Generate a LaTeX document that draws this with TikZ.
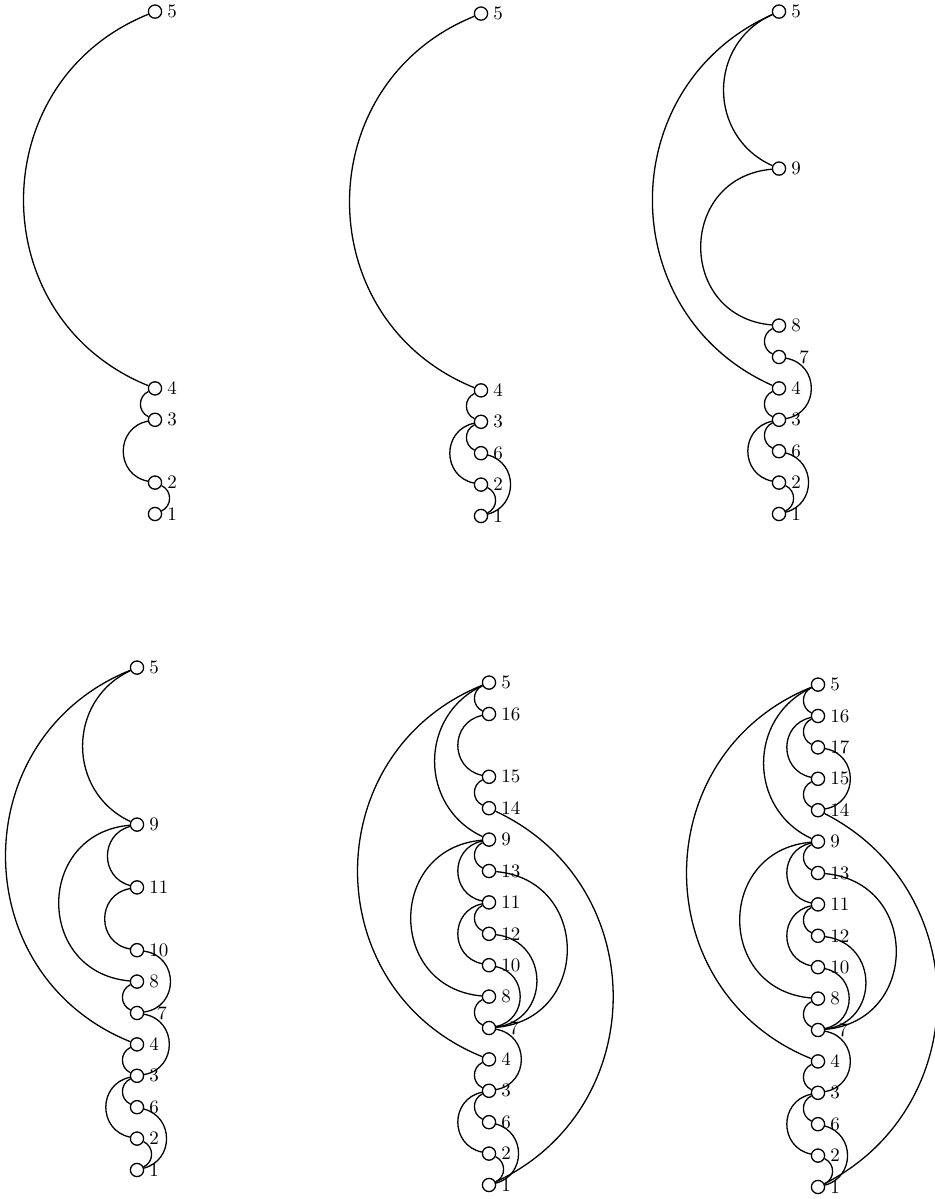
\documentclass[tikz,border=0pt]{standalone}
\newcommand{\vcol}[4]{%
  \foreach \n/\p in {#4}{%
    \ifnum\n=7 \def\dx{4pt}\else\def\dx{0pt}\fi
    \node[vtx,label={[lbl,xshift=\dx]right:\n}] (#1\n) at (#2,#3+\p*31.4) {};}}
\newcommand{\vlinks}[2]{\foreach \a/\b/\t in {#2}{\draw (#1\a) to[arcb=\t] (#1\b);}}
\begin{document}
\begin{tikzpicture}[x=0.5pt,y=0.5pt,line width=0.65pt,
  vtx/.style={circle,draw,minimum size=6.6pt,inner sep=0pt},
  lbl/.style={font=\fontsize{9.5}{10}\selectfont,inner sep=2.2pt},
  arcb/.code={\pgfmathsetmacro\arcout{-1*(#1)}\pgfmathsetmacro\arcin{180+(#1)}%
    \pgfmathsetmacro\arcloose{1.703/(1+cos(#1))}%
    \edef\arcopts{out=\arcout,in=\arcin,relative,looseness=\arcloose}%
    \expandafter\tikzset\expandafter{\arcopts}}]
\useasboundingbox (0,0) rectangle (934,1199);
% top row
\vcol{a}{155}{685}{1/0,2/1,3/3,4/4,5/16}
\vlinks{a}{5/4/68,4/3/65,3/2/79,2/1/-65}
\vcol{b}{481}{683}{1/0,2/1,6/2,3/3,4/4,5/16}
\vlinks{b}{5/4/68,4/3/65,3/6/65,3/2/78,6/1/-75,2/1/-65}
\vcol{c}{779}{685}{1/0,2/1,6/2,3/3,4/4,7/5,8/6,9/11,5/16}
\vlinks{c}{5/9/66,5/4/66,9/8/85,8/7/65,7/3/-80,4/3/65,3/6/65,3/2/78,6/1/-75,2/1/-65}
% bottom row
\vcol{d}{137}{29}{1/0,2/1,6/2,3/3,4/4,7/5,8/6,10/7,11/9,9/11,5/16}
\vlinks{d}{5/9/65,5/4/68,9/11/75,9/8/85,11/10/80,10/7/-82,8/7/65,7/3/-80,4/3/65,3/6/65,3/2/78,6/1/-75,2/1/-65}
\vcol{e}{489}{14}{1/0,2/1,6/2,3/3,4/4,7/5,8/6,10/7,12/8,11/9,13/10,9/11,14/12,15/13,16/15,5/16}
\vlinks{e}{5/16/65,5/9/65,5/4/68,16/15/78,15/14/65,14/1/-65,9/13/65,9/11/78,9/8/85,13/7/-85,11/12/65,11/10/78,12/7/-83,10/7/-78,8/7/65,7/3/-80,4/3/65,3/6/65,3/2/78,6/1/-75,2/1/-65}
\vcol{f}{818}{12}{1/0,2/1,6/2,3/3,4/4,7/5,8/6,10/7,12/8,11/9,13/10,9/11,14/12,15/13,17/14,16/15,5/16}
\vlinks{f}{5/16/65,16/17/65,5/9/65,5/4/68,16/15/78,17/14/-80,15/14/65,14/1/-63,9/13/65,9/11/78,9/8/85,13/7/-85,11/12/65,11/10/78,12/7/-83,10/7/-78,8/7/65,7/3/-80,4/3/65,3/6/65,3/2/78,6/1/-75,2/1/-65}
\end{tikzpicture}
\end{document}
